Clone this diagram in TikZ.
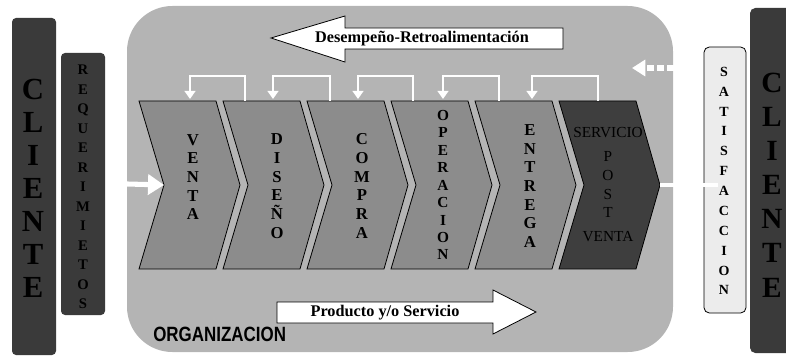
\documentclass[tikz,border=0pt]{standalone}
\usepackage{fontspec}
\setmainfont{Liberation Serif}
\newfontfamily\orgfont[FakeStretch=0.82]{Liberation Sans}
\usepackage{tikz}
\usetikzlibrary{positioning, calc, arrows.meta}

\definecolor{orgcol}{HTML}{B4B4B4}
\definecolor{chevcol}{HTML}{8C8C8C}
\definecolor{postcol}{HTML}{3E3E3E}
\definecolor{barcol}{HTML}{3A3A3A}
\definecolor{satcol}{HTML}{ECECEC}

\tikzset{
  stack/.style={align=center, inner sep=0pt, text=black, font=\bfseries\fontsize{12.5}{14}\selectfont},
  fbline/.style={draw=white, line width=1.9pt, -{Triangle[length=6pt,width=8pt]}},
  bigarrow/.style={draw=black, fill=white, line width=0.6pt},
  arrowtext/.style={inner sep=0pt, font=\bfseries\fontsize{12.2}{13}\selectfont}
}

\begin{document}
\begin{tikzpicture}[x=0.75pt, y=-0.75pt]
    \useasboundingbox (0,0) rectangle (786,356);

    % Cliente / requerimientos (left)
    \fill[barcol, rounded corners=3pt] (12,18) rectangle (56,355);
    \node[stack, font=\bfseries\fontsize{23}{24.75}\selectfont] (clienteL) at (33,188) {C\\L\\I\\E\\N\\T\\E};
    \fill[barcol, rounded corners=3pt] (61,53) rectangle (105,315);
    \node[stack, font=\bfseries\fontsize{11}{14.6}\selectfont] (req) at (83,187) {R\\E\\Q\\U\\E\\R\\I\\M\\I\\E\\T\\O\\S};

    % Organizacion
    \fill[orgcol, rounded corners=34pt] (127,6) rectangle (673,352);
    \node[anchor=base west, inner sep=0pt, font=\orgfont\bfseries\fontsize{15.5}{16}\selectfont] (org) at (153,341) {ORGANIZACION};

    % Process chain
    \foreach \i/\x/\col in {1/139/chevcol, 2/223/chevcol, 3/307/chevcol, 4/391/chevcol, 5/475/chevcol, 6/559/postcol} {
      \draw[fill=\col, line width=0.6pt] (\x,101) -- ++(77,0) -- ++(24,84) -- ++(-24,84) -- ++(-77,0) -- ++(25,-84) -- cycle;
      \coordinate (c\i) at (\x,101);
    }
    \coordinate (notch) at (164,185);
    \coordinate (tip) at (660,185);

    \node[stack] (venta) at (193,177) {V\\E\\N\\T\\A};
    \node[stack] (diseno) at (277,186) {D\\I\\S\\E\\Ñ\\O};
    \node[stack] (compra) at (362,186) {C\\O\\M\\P\\R\\A};
    \node[stack, font=\bfseries\fontsize{11.5}{13.1}\selectfont] (operacion) at (443,185) {O\\P\\E\\R\\A\\C\\I\\O\\N};
    \node[stack] (entrega) at (530,186) {E\\N\\T\\R\\E\\G\\A};
    \node[stack, font=\fontsize{11.5}{14}\selectfont] (postventa) at (608,185) {SERVICIO\\[4pt]P\\O\\S\\T\\[4pt]VENTA};

    % Feedback between steps
    \foreach \i/\j/\a/\b in {1/2/51/22, 2/3/50/23, 3/4/51/22, 4/5/52/24, 5/6/57/39} {
      \draw[fbline] ($(c\j)+(\b,0)$) -- ++(0,-25) -| ($(c\i)+(\a,-2)$);
    }

    % Big arrows
    \draw[bigarrow] (271,38) -- (345,16) -- (345,28) -- (563,28) -- (563,49) -- (345,49) -- (345,62) -- cycle;
    \node[arrowtext] (feedback) at (422,39) {Desempeño-Retroalimentación};
    \draw[bigarrow] (277,302) -- (493,302) -- (493,290) -- (536,312) -- (493,334) -- (493,323) -- (277,323) -- cycle;
    \node[arrowtext] (producto) at (385,313) {Producto y/o Servicio};

    % Cliente / satisfaccion (right)
    \fill[satcol, draw=black, line width=0.6pt, rounded corners=4pt] (704,47) rectangle (746,313);
    \node[stack, font=\bfseries\fontsize{10.5}{14.9}\selectfont] (satis) at (724,181) {S\\A\\T\\I\\S\\F\\A\\C\\C\\I\\O\\N};
    \fill[barcol] (786,8) [rounded corners=4pt] -- (750,8) -- (750,353) [sharp corners] -- (786,353) -- cycle;
    \node[stack, font=\bfseries\fontsize{22}{25.6}\selectfont] (clienteR) at (772,185) {C\\L\\I\\E\\N\\T\\E};

    % Flows in and out
    \coordinate (orgin) at (127,184);
    \draw[draw=white, line width=3.8pt, -{Triangle[length=12pt,width=15pt]}] (orgin) -- (notch);
    \draw[draw=white, line width=3.5pt] (tip) -- (satis.west |- tip);
    \coordinate (satin) at (674,68);
    \coordinate (satout) at (632,68);
    \draw[draw=white, line width=3.8pt, dash pattern=on 5pt off 2.5pt, -{Triangle[length=10pt,width=12pt]}] (satin) -- (satout);

\end{tikzpicture}
\end{document}
